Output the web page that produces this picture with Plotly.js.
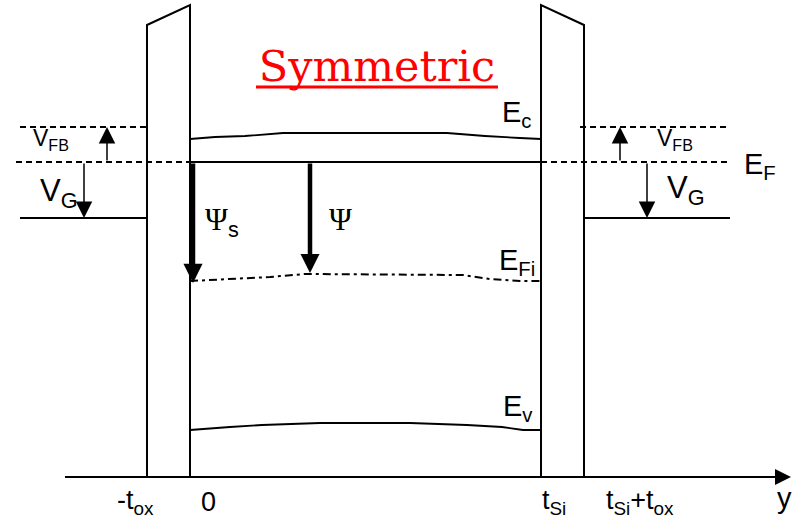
<!DOCTYPE html>
<html>
<head>
<meta charset="utf-8">
<script src="https://cdn.plot.ly/plotly-3.0.1.min.js"></script>
<style>html,body{margin:0;padding:0;background:#fff;}#chart{width:792px;height:522px;}</style>
</head>
<body>
<div id="chart"></div>
<script>
// ---- Data (diagram units: position along y on the horizontal, energy level on the vertical, downward = lower energy) ----
const axisY = 477;
const axisStartX = 65;
const axisEndX = 791;

// Oxide outlines
const oxLeftX  = [147, 147, 190, 190];
const oxLeftE  = [477, 25, 5, 477];
const oxRightX = [541, 541, 584, 584];
const oxRightE = [477, 5, 25, 477];

// Gate levels (left / right)
const gateLeftX = [20, 147];
const gateRightX = [584, 730];
const vfbLevel = 127;
const efLevel = 162;
const vgLevel = 218;
const vfbLeftX = [20, 147];
const efLeftX = [16, 190];
const vfbRightX = [580, 730];
const efRightX = [541, 730];

// Silicon band profiles
const siX_Ec = [190, 215, 245, 283, 447, 485, 520, 541];
const siEc   = [139, 137, 136, 133, 133, 136, 138, 139];
const siX_Ef = [190, 541];
const siEf   = [162, 162];
const siX_Efi = [190, 230, 270, 305, 463, 490, 520, 541];
const siEfi   = [281, 279, 277, 274, 275, 279, 281, 281];
const siX_Ev = [190, 207, 230, 262, 320, 410, 467, 502, 523, 541];
const siEv   = [430, 429, 427, 425, 423, 423, 425, 427, 430, 430];

// Potential arrows [x, from, to]
const arrowVfbLeft  = [107, efLevel, vfbLevel];
const arrowVgLeft   = [84, efLevel, vgLevel];
const arrowVfbRight = [620, efLevel, vfbLevel];
const arrowVgRight  = [647, efLevel, vgLevel];
const arrowPsiS = [193, efLevel, 283];
const arrowPsi  = [310, efLevel, 273];

// Tick labels on the y axis
const tickLabels = ['-t<sub>ox</sub>', '0', 't<sub>Si</sub>', 't<sub>Si</sub>+t<sub>ox</sub>'];
const tickPos = [135, 208, 554, 640];

const BLACK = '#000';
function line(x, y, opts) {
  return Object.assign({type: 'scatter', mode: 'lines', x: x, y: y, hoverinfo: 'skip',
    line: {color: BLACK, width: 1.8}}, opts || {});
}

const traces = [
  line(oxLeftX, oxLeftE, {line: {color: BLACK, width: 2}}),
  line(oxRightX, oxRightE, {line: {color: BLACK, width: 2}}),
  line(gateLeftX, [vgLevel, vgLevel]),
  line(gateRightX, [vgLevel, vgLevel]),
  line(vfbLeftX, [vfbLevel, vfbLevel], {line: {color: BLACK, width: 2, dash: '6px,4px'}}),
  line(efLeftX, [efLevel, efLevel], {line: {color: BLACK, width: 2, dash: '6px,4px'}}),
  line(vfbRightX, [vfbLevel, vfbLevel], {line: {color: BLACK, width: 2, dash: '6px,4px'}}),
  line(efRightX, [efLevel, efLevel], {line: {color: BLACK, width: 2, dash: '6px,4px'}}),
  line(siX_Ec, siEc),
  line(siX_Ef, siEf),
  line(siX_Efi, siEfi, {line: {color: BLACK, width: 2, dash: '8px,4px,3px,4px'}}),
  line(siX_Ev, siEv),
  line([axisStartX, axisEndX - 10], [axisY, axisY], {line: {color: BLACK, width: 2}})
];

function arrow(a, w, size) {
  return {x: a[0], y: a[2], ax: a[0], ay: a[1], xref: 'x', yref: 'y', axref: 'x', ayref: 'y',
    text: '', showarrow: true, arrowhead: 2, arrowwidth: w, arrowsize: size, arrowcolor: BLACK, standoff: 0, startstandoff: 0};
}
const sans = 'Liberation Sans, Arial, sans-serif';
const serif = 'Liberation Serif, Times New Roman, serif';
function label(text, x, y, size, family, xanchor) {
  return {x: x, y: y, xref: 'x', yref: 'y', text: text, showarrow: false,
    xanchor: xanchor || 'left', yanchor: 'middle', font: {family: family || sans, size: size, color: BLACK}};
}

const annotations = [
  arrow(arrowVfbLeft, 1.5, 2.2),
  arrow(arrowVgLeft, 1.5, 2.2),
  arrow(arrowVfbRight, 1.5, 2.2),
  arrow(arrowVgRight, 1.5, 2.2),
  arrow(arrowPsiS, 4.5, 0.85),
  arrow(arrowPsi, 4.5, 0.85),
  {x: axisEndX, y: axisY, ax: axisEndX - 20, ay: axisY, xref: 'x', yref: 'y', axref: 'x', ayref: 'y',
   text: '', showarrow: true, arrowhead: 2, arrowwidth: 2, arrowsize: 1.6, arrowcolor: BLACK, standoff: 0},
  label('V<sub>FB</sub>', 31, 139, 23),
  label('V<sub>G</sub>', 38, 193, 31),
  label('V<sub>FB</sub>', 655, 139, 23),
  label('V<sub>G</sub>', 665, 190, 31),
  label('E<sub>F</sub>', 742, 166, 29),
  label('E<sub>c</sub>', 500, 114, 29),
  label('E<sub>Fi</sub>', 497, 262, 29),
  label('E<sub>v</sub>', 501, 408, 29),
  label('Ψ<sub><span style="font-family:Liberation Sans">s</span></sub>', 203, 222, 31, serif),
  label('Ψ', 327, 219, 31, serif),
  label('y', 784, 498, 29, sans, 'center')
];
for (let i = 0; i < tickLabels.length; i++) {
  annotations.push(label(tickLabels[i], tickPos[i], 502, 27, sans, 'center'));
}

const layout = {
  width: 792, height: 522,
  margin: {l: 0, r: 0, t: 0, b: 0},
  paper_bgcolor: '#fff', plot_bgcolor: '#fff',
  showlegend: false,
  title: {text: 'Symmetric', x: 377/792, y: 1 - 66/522, xanchor: 'center', yanchor: 'middle',
          font: {family: 'DejaVu Serif, serif', size: 43, color: '#ff0000'}},
  xaxis: {range: [0, 792], visible: false, fixedrange: true},
  yaxis: {range: [522, 0], visible: false, fixedrange: true},
  shapes: [
    {type: 'line', xref: 'paper', yref: 'paper', x0: 256/792, x1: 498/792, y0: 1 - 87/522, y1: 1 - 87/522,
     line: {color: '#ff0000', width: 3}}
  ],
  annotations: annotations
};

Plotly.newPlot('chart', traces, layout, {staticPlot: true, displayModeBar: false});
</script>
</body>
</html>
